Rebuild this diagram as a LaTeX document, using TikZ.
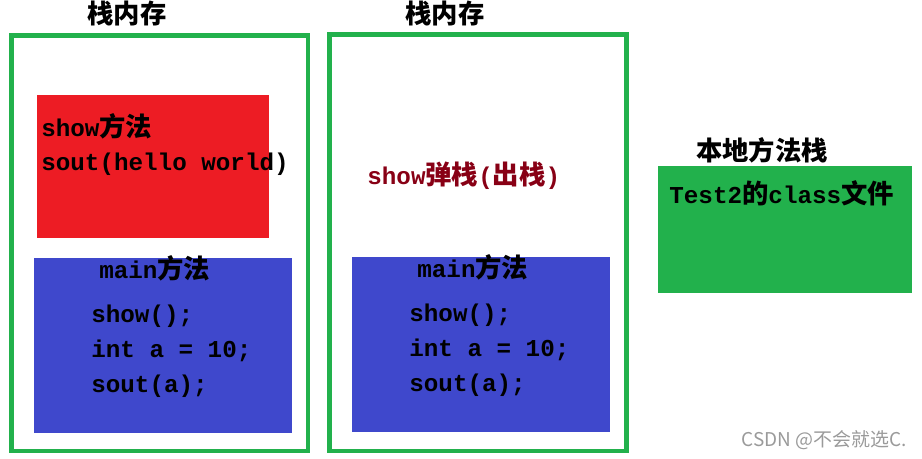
\documentclass[tikz,border=0pt]{standalone}
\usepackage{fontspec}
\setmainfont{Liberation Mono}[Scale=0.92]
\newfontfamily\zh{Noto Sans CJK SC}
\usetikzlibrary{positioning}
\definecolor{framegreen}{HTML}{22B14C}
\definecolor{showred}{HTML}{ED1C24}
\definecolor{mainblue}{HTML}{3F48CC}
\definecolor{popred}{HTML}{880015}
\definecolor{markgray}{HTML}{9A9A9A}
\begin{document}
\begin{tikzpicture}[x=0.02cm,y=-0.02cm,
	every node/.style={inner sep=0pt,font=\fontsize{15}{18}\selectfont\bfseries},
	frame/.style={draw=framegreen,line width=2.8pt},
	title/.style={anchor=base},
	code/.style={anchor=base west}]
	\useasboundingbox (0,0) rectangle (922,459);

	% left stack
	\draw[frame] (11.5,35.5) rectangle (308,451);
	\node[title] (stack_1) at (127,24) {\zh 栈内存};
	\fill[showred] (37,95) rectangle (269,238);
	\node[code] (show_1) at (41,137) {show{\zh 方法}};
	\node[code] (hello_1) at (41,171) {sout(hello world)};
	\fill[mainblue] (34,258) rectangle (292,433);
	\node[code] (main_1) at (99,278) {main{\zh 方法}};
	\node[code] (call_1) at (91,322) {show();};
	\node[code] (int_1) at (91,357) {int a = 10;};
	\node[code] (sout_1) at (91,392) {sout(a);};

	% right stack
	\draw[frame] (329.5,34.5) rectangle (626.5,451);
	\node[title] (stack_2) at (445,24) {\zh 栈内存};
	\node[code,text=popred] (pop_2) at (367,185) {show{\zh 弹栈}({\zh 出栈})};
	\fill[mainblue] (352,257) rectangle (610,432);
	\node[code] (main_2) at (417,277) {main{\zh 方法}};
	\node[code] (call_2) at (409,321) {show();};
	\node[code] (int_2) at (409,356) {int a = 10;};
	\node[code] (sout_2) at (409,391) {sout(a);};

	% native method stack
	\node[title] (native) at (762,161) {\zh 本地方法栈};
	\fill[framegreen] (658,166) rectangle (912,293);
	\node[code] (classfile) at (669,203) {Test2{\zh 的}class{\zh 文件}};

	\node[anchor=base east,font=\zh\fontsize{10.8}{12}\selectfont,text=markgray] (mark) at (907,446) {CSDN @不会就选C.};
\end{tikzpicture}
\end{document}
